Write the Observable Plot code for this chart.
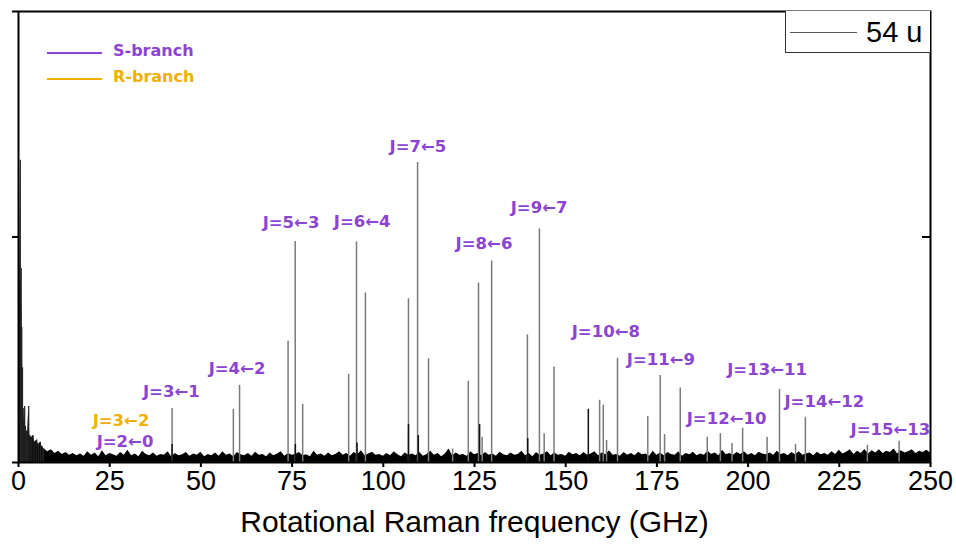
<!DOCTYPE html>
<html><head><meta charset="utf-8">
<script src="https://cdn.jsdelivr.net/npm/d3@7"></script>
<script src="https://cdn.jsdelivr.net/npm/@observablehq/plot@0.6"></script>
<style>
body{margin:0;background:#fff;}
#wrap{position:relative;width:956px;height:545px;overflow:hidden;}
.lg{position:absolute;font-family:"DejaVu Sans",sans-serif;font-weight:bold;font-size:16px;white-space:nowrap;}
.ln{position:absolute;height:0;}
</style></head><body><div id="wrap"></div>
<script>
// ---- data ----
const xTicks = [0, 25, 50, 75, 100, 125, 150, 175, 200, 225, 250];
const yTicks = [0, 0.5, 1];
const xTitle = "Rotational Raman frequency (GHz)";

// low-frequency wing (GHz, intensity)
const lowFreq = [0.2, 0.35, 0.5, 0.6, 0.75, 0.9, 1.1, 1.3, 1.5, 1.7, 1.9, 2.2, 2.5, 2.8, 3.1, 3.5, 4.0, 4.5, 5.0, 5.5, 6.0, 6.5, 7.0];
const lowVal  = [0.34, 0.40, 0.67, 0.34, 0.43, 0.30, 0.21, 0.12, 0.09, 0.124, 0.08, 0.07, 0.065, 0.124, 0.06, 0.055, 0.06, 0.045, 0.05, 0.04, 0.045, 0.035, 0.03];

// baseline noise from 7 GHz to 250 GHz, one value per GHz
const noiseStart = 7;
const noiseVal = [
0.030,0.024,0.028,0.020,0.025,0.018,0.022,0.016,0.020,0.015,
0.019,0.014,0.024,0.016,0.021,0.013,0.026,0.015,0.020,0.017,
0.014,0.022,0.016,0.027,0.015,0.019,0.013,0.025,0.018,0.015,
0.021,0.014,0.018,0.016,0.024,0.013,0.020,0.015,0.017,0.022,
0.014,0.019,0.016,0.023,0.013,0.018,0.015,0.021,0.014,0.024,
0.016,0.019,0.013,0.022,0.017,0.015,0.020,0.014,0.023,0.016,
0.018,0.013,0.021,0.015,0.019,0.024,0.014,0.020,0.016,0.018,
0.022,0.015,0.017,0.013,0.025,0.016,0.019,0.014,0.021,0.015,
0.018,0.024,0.016,0.020,0.014,0.022,0.017,0.026,0.015,0.019,
0.023,0.016,0.018,0.014,0.020,0.015,0.024,0.017,0.013,0.021,
0.016,0.019,0.015,0.022,0.014,0.018,0.025,0.016,0.020,0.013,
0.019,0.030,0.015,0.021,0.016,0.018,0.014,0.024,0.017,0.020,
0.015,0.022,0.016,0.019,0.014,0.023,0.017,0.015,0.021,0.016,
0.018,0.025,0.015,0.020,0.013,0.022,0.016,0.019,0.024,0.015,
0.021,0.016,0.018,0.014,0.023,0.017,0.020,0.015,0.022,0.016,
0.019,0.024,0.015,0.021,0.017,0.026,0.016,0.018,0.014,0.022,
0.016,0.020,0.015,0.023,0.017,0.019,0.014,0.025,0.016,0.021,
0.015,0.022,0.018,0.016,0.024,0.014,0.020,0.017,0.023,0.015,
0.019,0.016,0.025,0.018,0.021,0.015,0.027,0.017,0.020,0.016,
0.022,0.018,0.024,0.016,0.020,0.015,0.023,0.019,0.017,0.021,
0.016,0.025,0.018,0.020,0.015,0.022,0.017,0.024,0.016,0.019,
0.021,0.015,0.023,0.017,0.020,0.016,0.024,0.018,0.027,0.019,
0.023,0.028,0.018,0.025,0.020,0.029,0.019,0.026,0.021,0.028,
0.020,0.025,0.022,0.030,0.019,0.026,0.021,0.024,0.028,0.020,
0.025,0.022,0.027,0.021];

// spectral lines (GHz, intensity)
const peakFreq = [42.1, 58.9, 60.6, 73.9, 75.85, 77.9, 90.5, 92.65, 95.1, 106.9, 109.4, 112.4, 119.0, 123.3, 126.1, 127.1, 129.7, 139.5, 142.8, 144.1, 146.8, 159.3, 160.3, 161.2, 164.2, 172.5, 175.9, 177.1, 181.4, 188.8, 192.4, 195.6, 198.5, 205.2, 208.6, 213.0, 215.7, 232.7, 241.4];
const peakVal  = [0.120, 0.118, 0.171, 0.269, 0.490, 0.129, 0.196, 0.489, 0.376, 0.363, 0.665, 0.230, 0.030, 0.180, 0.398, 0.056, 0.447, 0.283, 0.518, 0.064, 0.212, 0.138, 0.127, 0.049, 0.231, 0.102, 0.193, 0.062, 0.165, 0.056, 0.064, 0.042, 0.076, 0.056, 0.162, 0.040, 0.100, 0.038, 0.047];
// darker overlapping lines
const darkFreq = [42.1, 75.9, 92.8, 106.9, 109.6, 126.4, 139.6, 156.2];
const darkVal  = [0.040, 0.040, 0.043, 0.084, 0.060, 0.084, 0.053, 0.118];

// transition labels
const labelText = ["J=2←0", "J=3←2", "J=3←1", "J=4←2", "J=5←3", "J=6←4", "J=7←5", "J=8←6", "J=9←7", "J=10←8", "J=11←9", "J=12←10", "J=13←11", "J=14←12", "J=15←13"];
const labelFreq = [29.2, 28.1, 41.9, 59.9, 74.7, 94.2, 109.5, 127.6, 142.7, 161.0, 176.1, 194.1, 205.2, 220.9, 239.0];
const labelVal  = [0.047, 0.093, 0.158, 0.207, 0.532, 0.533, 0.700, 0.484, 0.564, 0.291, 0.227, 0.098, 0.206, 0.134, 0.073];
const labelBranch = ["S", "R", "S", "S", "S", "S", "S", "S", "S", "S", "S", "S", "S", "S", "S"];

const legendNames = ["S-branch", "R-branch"];
const legendColors = ["#8c45d2", "#f0b000"];
const seriesName = "54 u";

// ---- build tables ----
const lowData = lowFreq.map((f, i) => ({f, v: lowVal[i]}));
const noiseData = noiseVal.map((v, i) => ({f: noiseStart + i, v}));
const peakData = peakFreq.map((f, i) => ({f, v: peakVal[i]}));
const darkData = darkFreq.map((f, i) => ({f, v: darkVal[i]}));
const labelData = labelText.map((t, i) => ({t, f: labelFreq[i], v: labelVal[i], b: labelBranch[i]}));
const blank = () => "";

const plot = Plot.plot({
  width: 956, height: 545,
  marginLeft: 18, marginRight: 26, marginTop: 11, marginBottom: 83,
  x: {domain: [0, 250]},
  y: {domain: [0, 1]},
  style: {fontFamily: "'Liberation Sans', Arial, sans-serif", background: "white", color: "black"},
  marks: [
    Plot.areaY(lowData, {x: "f", y: "v", fill: "black"}),
    Plot.ruleX(lowData, {x: "f", y1: 0, y2: "v", stroke: "#222", strokeWidth: 1.2}),
    Plot.areaY(noiseData, {x: "f", y: "v", fill: "black"}),
    Plot.ruleX(peakData, {x: "f", y1: 0, y2: "v", stroke: "#7a7a7a", strokeWidth: 1.5}),
    Plot.ruleX(darkData, {x: "f", y1: 0, y2: "v", stroke: "#111", strokeWidth: 1.5}),
    Plot.text(labelData.filter(d => d.b === "S"), {x: "f", y: "v", text: "t", fill: legendColors[0], fontSize: 16.5, fontWeight: "bold", fontFamily: "'DejaVu Sans', sans-serif"}),
    Plot.text(labelData.filter(d => d.b === "R"), {x: "f", y: "v", text: "t", fill: legendColors[1], fontSize: 16.5, fontWeight: "bold", fontFamily: "'DejaVu Sans', sans-serif"}),
    Plot.frame({stroke: "black", strokeWidth: 2}),
    Plot.axisX({ticks: xTicks, tickSize: 5, tickPadding: 3, fontSize: 27, label: null, strokeWidth: 2}),
    Plot.axisY({ticks: yTicks, tickSize: 6, tickFormat: blank, label: null, strokeWidth: 2}),
    Plot.axisY({anchor: "right", ticks: [0.5], tickSize: 9, dx: -9, tickFormat: blank, label: null, strokeWidth: 2}),
    Plot.text([xTitle], {frameAnchor: "bottom", dy: 60, lineAnchor: "middle", fontSize: 30})
  ]
});
const wrap = document.getElementById("wrap");
wrap.appendChild(plot);

// top-left branch legend
legendNames.forEach((name, i) => {
  const y = 52 + i * 26;
  const ln = document.createElement("div");
  ln.className = "ln";
  ln.style.cssText = `left:47px;top:${y}px;width:55px;border-top:2px solid ${legendColors[i]};`;
  wrap.appendChild(ln);
  const tx = document.createElement("div");
  tx.className = "lg";
  tx.style.cssText = `left:113px;top:${y - 11}px;color:${legendColors[i]};`;
  tx.textContent = name;
  wrap.appendChild(tx);
});
// top-right series legend box
const box = document.createElement("div");
box.style.cssText = "position:absolute;left:785px;top:11px;width:144px;height:41px;border:1px solid #333;border-right:none;border-top:none;background:#fff;";
wrap.appendChild(box);
const sl = document.createElement("div");
sl.className = "ln";
sl.style.cssText = "left:790px;top:32px;width:67px;border-top:1px solid #555;";
wrap.appendChild(sl);
const st = document.createElement("div");
st.style.cssText = "position:absolute;left:866px;top:15px;font-family:'Liberation Sans',Arial,sans-serif;font-size:29px;line-height:34px;color:#000;";
st.textContent = seriesName;
wrap.appendChild(st);
</script>
</body></html>
